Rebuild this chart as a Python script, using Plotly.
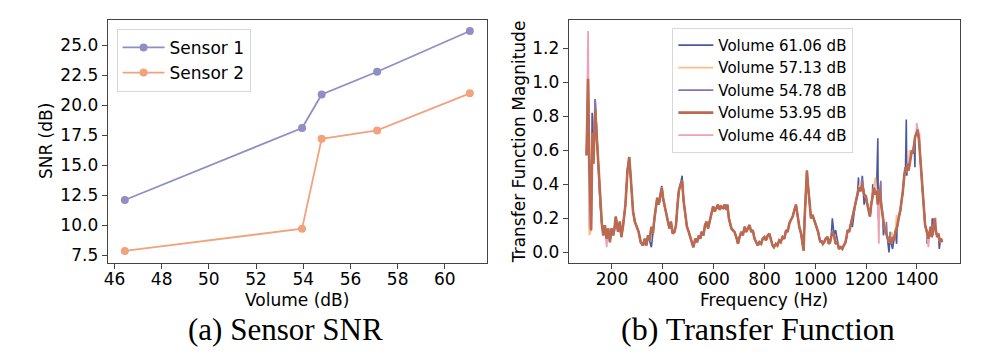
import plotly.graph_objects as go

# ---- left panel: SNR vs volume ----
volume = [46.44, 53.95, 54.78, 57.13, 61.06]
snr_sensor1 = [12.1, 18.1, 20.9, 22.8, 26.2]
snr_sensor2 = [7.85, 9.7, 17.2, 17.9, 21.0]

# ---- right panel: transfer function (shared shape) ----
freq = [100, 106, 111, 118, 123, 127, 134, 140, 147, 153, 160, 166, 172, 179, 185, 192, 198, 205, 210, 215,
        224, 231, 237, 244, 253, 261, 268, 273, 277, 283, 290, 296, 305, 313, 322, 329, 335, 342, 348, 355,
        361, 367, 372, 378, 383, 387, 392, 396, 402, 410, 419, 426, 432, 439, 446, 452, 458, 463, 470, 476,
        482, 487, 495, 502, 510, 515, 520, 528, 535, 542, 548, 552, 560, 566, 572, 578, 585, 591, 598, 604,
        611, 617, 624, 630, 637, 644, 650, 654, 660, 665, 670, 676, 682, 689, 696, 702, 709, 715, 722, 728,
        735, 741, 748, 754, 761, 767, 774, 780, 787, 793, 800, 806, 813, 819, 826, 832, 837, 845, 851, 858,
        864, 871, 878, 885, 891, 898, 904, 911, 918, 924, 930, 937, 944, 950, 954, 958, 963, 967, 971, 976,
        983, 989, 996, 1001, 1006, 1011, 1015, 1020, 1024, 1030, 1035, 1041, 1048, 1053, 1058, 1063, 1067, 1074, 1080, 1087,
        1093, 1100, 1106, 1112, 1119, 1124, 1127, 1133, 1140, 1146, 1153, 1159, 1166, 1172, 1179, 1185, 1192, 1199, 1205, 1210,
        1215, 1220, 1224, 1231, 1236, 1241, 1246, 1250, 1253, 1260, 1265, 1268, 1272, 1277, 1283, 1290, 1295, 1299, 1304, 1309,
        1315, 1322, 1328, 1335, 1340, 1344, 1350, 1355, 1358, 1363, 1367, 1372, 1376, 1380, 1384, 1389, 1393, 1398, 1403, 1408,
        1413, 1419, 1426, 1432, 1439, 1445, 1450, 1454, 1458, 1462, 1466, 1469, 1475, 1480, 1484, 1488, 1491, 1495, 1499]
base_mag = [0.57, 1.02, 0.50, 0.13, 0.70, 0.52, 0.84, 0.68, 0.50, 0.30, 0.17, 0.10, 0.16, 0.08, 0.14, 0.06, 0.14, 0.10, 0.14, 0.21,
            0.12, 0.18, 0.09, 0.16, 0.28, 0.48, 0.56, 0.46, 0.38, 0.24, 0.18, 0.16, 0.12, 0.06, 0.04, 0.08, 0.04, 0.10, 0.07, 0.15,
            0.11, 0.20, 0.25, 0.32, 0.28, 0.30, 0.35, 0.38, 0.31, 0.25, 0.20, 0.14, 0.18, 0.11, 0.12, 0.16, 0.28, 0.36, 0.40, 0.42,
            0.30, 0.25, 0.15, 0.12, 0.08, 0.06, 0.03, 0.08, 0.06, 0.10, 0.08, 0.12, 0.10, 0.16, 0.18, 0.14, 0.19, 0.22, 0.27, 0.24,
            0.26, 0.28, 0.25, 0.27, 0.26, 0.28, 0.25, 0.28, 0.20, 0.16, 0.14, 0.13, 0.12, 0.09, 0.05, 0.09, 0.12, 0.10, 0.15, 0.12,
            0.14, 0.16, 0.12, 0.13, 0.08, 0.06, 0.04, 0.06, 0.05, 0.08, 0.09, 0.07, 0.10, 0.11, 0.07, 0.04, 0.03, 0.05, 0.04, 0.07,
            0.06, 0.09, 0.08, 0.13, 0.12, 0.17, 0.19, 0.21, 0.25, 0.28, 0.22, 0.15, 0.11, 0.06, 0.01, 0.20, 0.36, 0.48, 0.40, 0.32,
            0.20, 0.22, 0.19, 0.17, 0.14, 0.12, 0.09, 0.06, 0.07, 0.05, 0.06, 0.08, 0.09, 0.05, 0.06, 0.10, 0.12, 0.10, 0.05, 0.06,
            0.02, 0.03, 0.02, 0.04, 0.06, 0.10, 0.13, 0.12, 0.17, 0.20, 0.25, 0.30, 0.35, 0.38, 0.36, 0.40, 0.34, 0.33, 0.28, 0.24,
            0.21, 0.28, 0.32, 0.38, 0.34, 0.36, 0.28, 0.34, 0.37, 0.27, 0.22, 0.18, 0.14, 0.12, 0.09, 0.06, 0.08, 0.05, 0.09, 0.07,
            0.12, 0.15, 0.20, 0.25, 0.31, 0.35, 0.45, 0.50, 0.47, 0.52, 0.48, 0.53, 0.56, 0.60, 0.58, 0.64, 0.68, 0.70, 0.72, 0.66,
            0.55, 0.42, 0.26, 0.16, 0.12, 0.08, 0.12, 0.15, 0.09, 0.11, 0.16, 0.20, 0.12, 0.09, 0.11, 0.07, 0.06, 0.08, 0.06]

# where a single recording departs visibly from the shared shape (Hz: magnitude)
dev_6106 = {122: 0.82, 134: 0.90, 355: 0.03, 396: 0.39, 476: 0.45, 967: 0.44, 1067: 0.20, 1080: 0.13,
            1146: 0.15, 1170: 0.44, 1185: 0.45, 1192: 0.28, 1226: 0.40, 1246: 0.67, 1248: 0.20, 1268: 0.10,
            1290: 0.00, 1295: 0.12, 1304: 0.02, 1320: 0.05, 1358: 0.78, 1360: 0.45, 1392: 0.50, 1440: 0.05,
            1460: 0.20, 1488: 0.02}
dev_5713 = {111: 0.10, 1178: 0.42, 1236: 0.44, 1300: 0.12, 1320: 0.22, 1370: 0.60, 1430: 0.22}
dev_5478 = {134: 0.90, 1185: 0.43, 1258: 0.42, 1280: 0.18}
dev_5395 = {}
dev_4644 = {106: 1.30, 111: 0.15, 179: 0.03, 1250: 0.05, 1399: 0.76, 1410: 0.70, 1445: 0.03, 1474: 0.20}

tf_labels = ["Volume 61.06 dB", "Volume 57.13 dB", "Volume 54.78 dB", "Volume 53.95 dB", "Volume 46.44 dB"]
tf_devs = [dev_6106, dev_5713, dev_5478, dev_5395, dev_4644]
tf_colors = ["#4a58a0", "#fbbf86", "#8a72b2", "#b96a50", "#eda2b6"]
tf_widths = [1.6, 1.8, 1.6, 2.6, 1.8]
draw_order = [0, 1, 2, 4, 3]  # brown goes on top, pink under it


def series(dev):
    pts = dict(zip(freq, base_mag))
    pts.update(dev)
    xs = sorted(pts)
    return xs, [pts[f] for f in xs]


W, H = 996, 355
OFF = 8  # page body margin shifts the whole figure by 8px


def px_x(p):
    return (p - OFF) / W


def px_y(p):
    return 1 - (p - OFF) / H


fig = go.Figure()

fig.add_trace(go.Scatter(x=volume, y=snr_sensor1, mode="lines+markers", name="Sensor 1",
                         line=dict(color="#8f8fc6", width=1.8), marker=dict(size=8, color="#8f8fc6"),
                         xaxis="x", yaxis="y", legend="legend", legendgroup="s1"))
fig.add_trace(go.Scatter(x=volume, y=snr_sensor2, mode="lines+markers", name="Sensor 2",
                         line=dict(color="#f1a37e", width=1.8), marker=dict(size=8, color="#f1a37e"),
                         xaxis="x", yaxis="y", legend="legend", legendgroup="s2"))

for i in draw_order:
    xs, ys = series(tf_devs[i])
    fig.add_trace(go.Scatter(x=xs, y=ys, mode="lines", name=tf_labels[i],
                             line=dict(color=tf_colors[i], width=tf_widths[i]),
                             xaxis="x2", yaxis="y2", legend="legend2", legendrank=i + 1,
                             legendgroup="tf%d" % i))

axis_style = dict(showgrid=False, zeroline=False, showline=True, mirror=True, linecolor="#444",
                  linewidth=1, ticks="outside", ticklen=5, tickcolor="#444",
                  tickfont=dict(family="DejaVu Sans", size=17, color="black"))

fig.update_layout(
    width=W, height=H,
    margin=dict(l=0, r=0, t=0, b=0),
    paper_bgcolor="white", plot_bgcolor="white",
    font=dict(family="DejaVu Sans", color="black"),
    xaxis=dict(domain=[px_x(104), px_x(485)], range=[45.71, 61.79], tickvals=[46, 48, 50, 52, 54, 56, 58, 60],
               anchor="y", ticklabelstandoff=-4, **axis_style),
    yaxis=dict(domain=[px_y(264), px_y(20)], range=[6.88, 27.12],
               tickvals=[7.5, 10, 12.5, 15, 17.5, 20, 22.5, 25], tickformat=".1f", anchor="x", **axis_style),
    xaxis2=dict(domain=[px_x(567), px_x(960)], range=[30, 1570], tickvals=[200, 400, 600, 800, 1000, 1200, 1400],
                anchor="y2", ticklabelstandoff=-4, **axis_style),
    yaxis2=dict(domain=[px_y(264), px_y(20)], range=[-0.06, 1.365], tickvals=[0, 0.2, 0.4, 0.6, 0.8, 1.0, 1.2],
                tickformat=".1f", anchor="x2", **axis_style),
    legend=dict(x=px_x(113), y=px_y(29), xanchor="left", yanchor="top", bgcolor="white",
                bordercolor="#d8d8d8", borderwidth=1, font=dict(size=17), traceorder="grouped",
                tracegroupgap=0, itemwidth=42),
    legend2=dict(x=px_x(671), y=px_y(28), xanchor="left", yanchor="top", bgcolor="rgba(255,255,255,0.85)",
                 bordercolor="#d8d8d8", borderwidth=1, font=dict(size=15), traceorder="grouped",
                 tracegroupgap=0, itemwidth=35),
    showlegend=True,
    annotations=[
        dict(text="Volume (dB)", x=px_x(294.5), y=px_y(302), xref="paper", yref="paper",
             showarrow=False, font=dict(size=17), xanchor="center", yanchor="middle"),
        dict(text="SNR (dB)", x=px_x(42), y=px_y(142), xref="paper", yref="paper", textangle=-90,
             showarrow=False, font=dict(size=17), xanchor="center", yanchor="middle"),
        dict(text="Frequency (Hz)", x=px_x(763.5), y=px_y(302), xref="paper", yref="paper",
             showarrow=False, font=dict(size=17), xanchor="center", yanchor="middle"),
        dict(text="Transfer Function Magnitude", x=px_x(517), y=px_y(142), xref="paper", yref="paper",
             textangle=-90, showarrow=False, font=dict(size=17), xanchor="center", yanchor="middle"),
        dict(text="(a) Sensor SNR", x=px_x(282.5), y=px_y(331), xref="paper", yref="paper",
             showarrow=False, font=dict(family="Liberation Serif", size=31), xanchor="center", yanchor="middle"),
        dict(text="(b) Transfer Function", x=px_x(756.7), y=px_y(331), xref="paper", yref="paper",
             showarrow=False, font=dict(family="Liberation Serif", size=32), xanchor="center", yanchor="middle"),
    ],
)

fig.write_html("out.html")
